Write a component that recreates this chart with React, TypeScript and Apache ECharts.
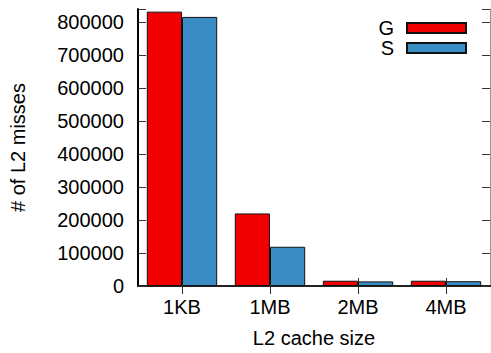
import React, { useEffect, useRef } from "react";
import * as echarts from "echarts";

// L2 cache sizes on the x axis
const cacheSizes = ["1KB", "1MB", "2MB", "4MB"];
// Miss counts per configuration
const missesG = [832000, 220000, 16000, 16000];
const missesS = [816000, 119000, 14000, 14500];

const yMax = 840000;
const yStep = 100000;

const FONT = "'Liberation Sans', Arial, Helvetica, sans-serif";
const RED = "#f00000";
const BLUE = "#3a8dc4";

export default function App() {
  const ref = useRef<HTMLDivElement>(null);

  useEffect(() => {
    if (!ref.current) return;
    const chart = echarts.init(ref.current, undefined, { renderer: "svg" });

    const tickStyle = { show: true, inside: true, length: 8, lineStyle: { color: "#333", width: 1 } };

    chart.setOption({
      animation: false,
      backgroundColor: "#ffffff",
      textStyle: { fontFamily: FONT },
      grid: { left: 138, right: 1, top: 9, bottom: 65, containLabel: false },
      legend: {
        orient: "vertical",
        right: 24,
        top: 18,
        padding: 0,
        itemWidth: 59,
        itemHeight: 10,
        itemGap: 0,
        align: "right",
        icon: "rect",
        textStyle: { fontSize: 20, fontFamily: FONT, color: "#000", lineHeight: 20, padding: [0, 8, 0, 0] },
        data: ["G", "S"],
      },
      xAxis: [
        {
          type: "category",
          data: cacheSizes,
          position: "bottom",
          name: "L2 cache size",
          nameLocation: "middle",
          nameGap: 42,
          nameTextStyle: { fontSize: 20, color: "#000", fontFamily: FONT },
          axisLine: { show: true, lineStyle: { color: "#000", width: 2 } },
          axisTick: { ...tickStyle, alignWithLabel: true },
          axisLabel: { fontSize: 20, color: "#000", margin: 11, fontFamily: FONT },
          splitLine: { show: false },
        },
        {
          type: "category",
          data: cacheSizes,
          position: "top",
          axisLine: { show: true, lineStyle: { color: "#222", width: 2 } },
          axisTick: { ...tickStyle, alignWithLabel: true },
          axisLabel: { show: false },
          splitLine: { show: false },
        },
      ],
      yAxis: [
        {
          type: "value",
          min: 0,
          max: yMax,
          interval: yStep,
          position: "left",
          name: "# of L2 misses",
          nameLocation: "middle",
          nameGap: 110,
          nameTextStyle: { fontSize: 20, color: "#000", fontFamily: FONT },
          axisLine: { show: true, lineStyle: { color: "#000", width: 2 } },
          axisTick: tickStyle,
          axisLabel: {
            fontSize: 20,
            color: "#000",
            margin: 14,
            fontFamily: FONT,
            formatter: (v: number) => (v % yStep === 0 ? String(v) : ""),
          },
          splitLine: { show: false },
        },
        {
          type: "value",
          min: 0,
          max: yMax,
          interval: yStep,
          position: "right",
          axisLine: { show: true, lineStyle: { color: "#999", width: 1 } },
          axisTick: tickStyle,
          axisLabel: { show: false },
          splitLine: { show: false },
        },
      ],
      series: [
        {
          name: "G",
          type: "bar",
          data: missesG,
          barGap: "0%",
          barCategoryGap: "20%",
          itemStyle: { color: RED, borderColor: "#111", borderWidth: 1 },
        },
        {
          name: "S",
          type: "bar",
          data: missesS,
          barGap: "0%",
          barCategoryGap: "20%",
          itemStyle: { color: BLUE, borderColor: "#111", borderWidth: 1 },
        },
      ],
    });

    return () => chart.dispose();
  }, []);

  return (
    <div
      ref={ref}
      style={{ position: "absolute", left: 0, top: 0, width: 491, height: 353 }}
    />
  );
}
